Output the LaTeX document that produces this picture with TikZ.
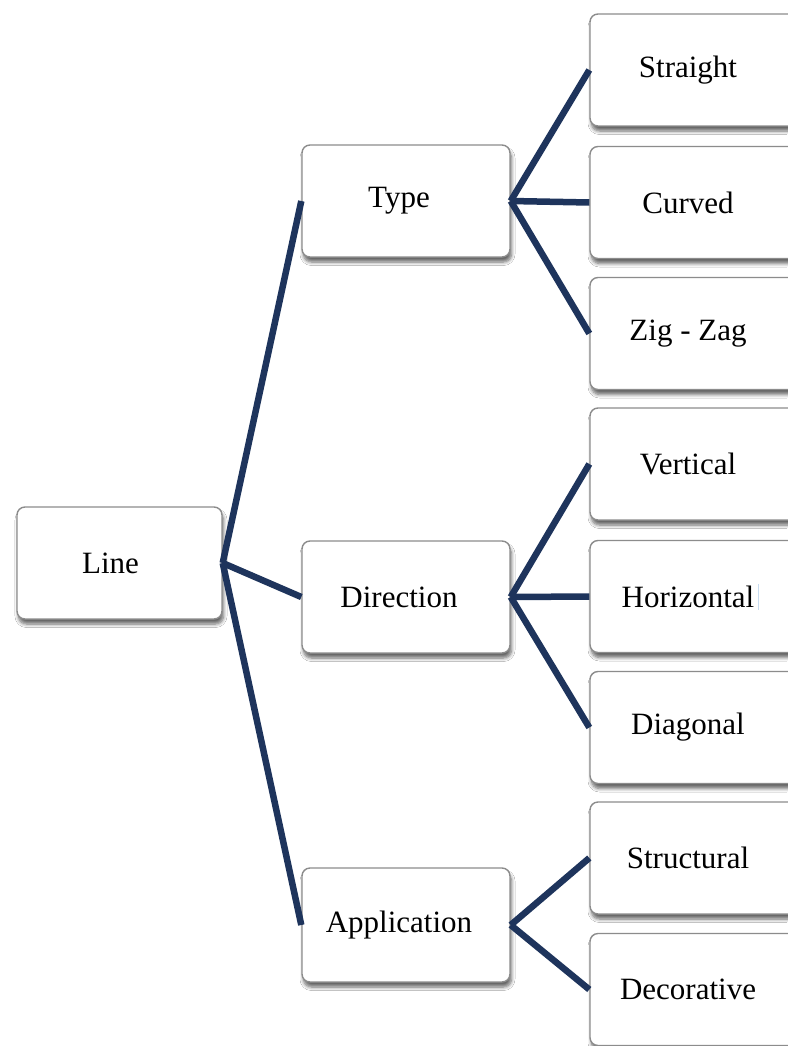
\documentclass[tikz,border=0pt]{standalone}
\usepackage{fontspec}
\setmainfont{Liberation Serif}
\usetikzlibrary{shadows,shadows.blur}
\definecolor{navy}{RGB}{30,52,92}
\definecolor{boxline}{RGB}{140,140,140}
\definecolor{cursor}{RGB}{200,220,240}
\begin{document}
\begin{tikzpicture}[x=1pt,y=-1pt,
  box/.style={draw=boxline, line width=1.4pt, rounded corners=8pt, fill=white,
    minimum height=112pt, inner sep=0pt, font=\fontsize{31}{36}\selectfont,
    blur shadow={shadow xshift=1.5pt, shadow yshift=-5pt, shadow blur steps=6,
      shadow blur radius=3.5pt, shadow opacity=60}},
  rootbox/.style={box, minimum width=205pt, execute at end node={\hspace*{18pt}}},
  midbox/.style={box, minimum width=208pt, execute at end node={\hspace*{14pt}}},
  leafbox/.style={box, minimum width=240pt, execute at end node={\hspace*{44pt}}},
  conn/.style={draw=navy, line width=6.5pt}]
\useasboundingbox (0,0) rectangle (787,1046);
\fill[white] (0,0) rectangle (787,1046);

\node[rootbox] (line) at (119.5,563) {Line};

\node[midbox] (type) at (406,201) {Type};
\node[midbox] (dir)  at (406,597) {Direction};
\node[midbox, minimum height=114pt] (app) at (406,925) {Application};

\node[leafbox] (straight) at (710,70)    {Straight};
\node[leafbox] (curved)   at (710,202.5) {Curved};
\node[leafbox] (zigzag)   at (710,333.5) {Zig - Zag};
\node[leafbox] (vert)     at (710,464)   {Vertical};
\node[leafbox] (horiz)    at (710,596.5) {Horizontal};
\node[leafbox] (diag)     at (710,727.5) {Diagonal};
\node[leafbox] (struct)   at (710,858)   {Structural};
\node[leafbox] (decor)    at (710,989.5) {Decorative};

\draw[cursor, line width=1pt] (758,584) -- (758,610);

\draw[conn] (line.east) -- (type.west);
\draw[conn] (line.east) -- (dir.west);
\draw[conn] (line.east) -- (app.west);

\draw[conn] (type.east) -- (straight.west);
\draw[conn] (type.east) -- (curved.west);
\draw[conn] (type.east) -- (zigzag.west);

\draw[conn] (dir.east) -- (vert.west);
\draw[conn] (dir.east) -- (horiz.west);
\draw[conn] (dir.east) -- (diag.west);

\draw[conn] (app.east) -- (struct.west);
\draw[conn] (app.east) -- (decor.west);
\end{tikzpicture}
\end{document}
